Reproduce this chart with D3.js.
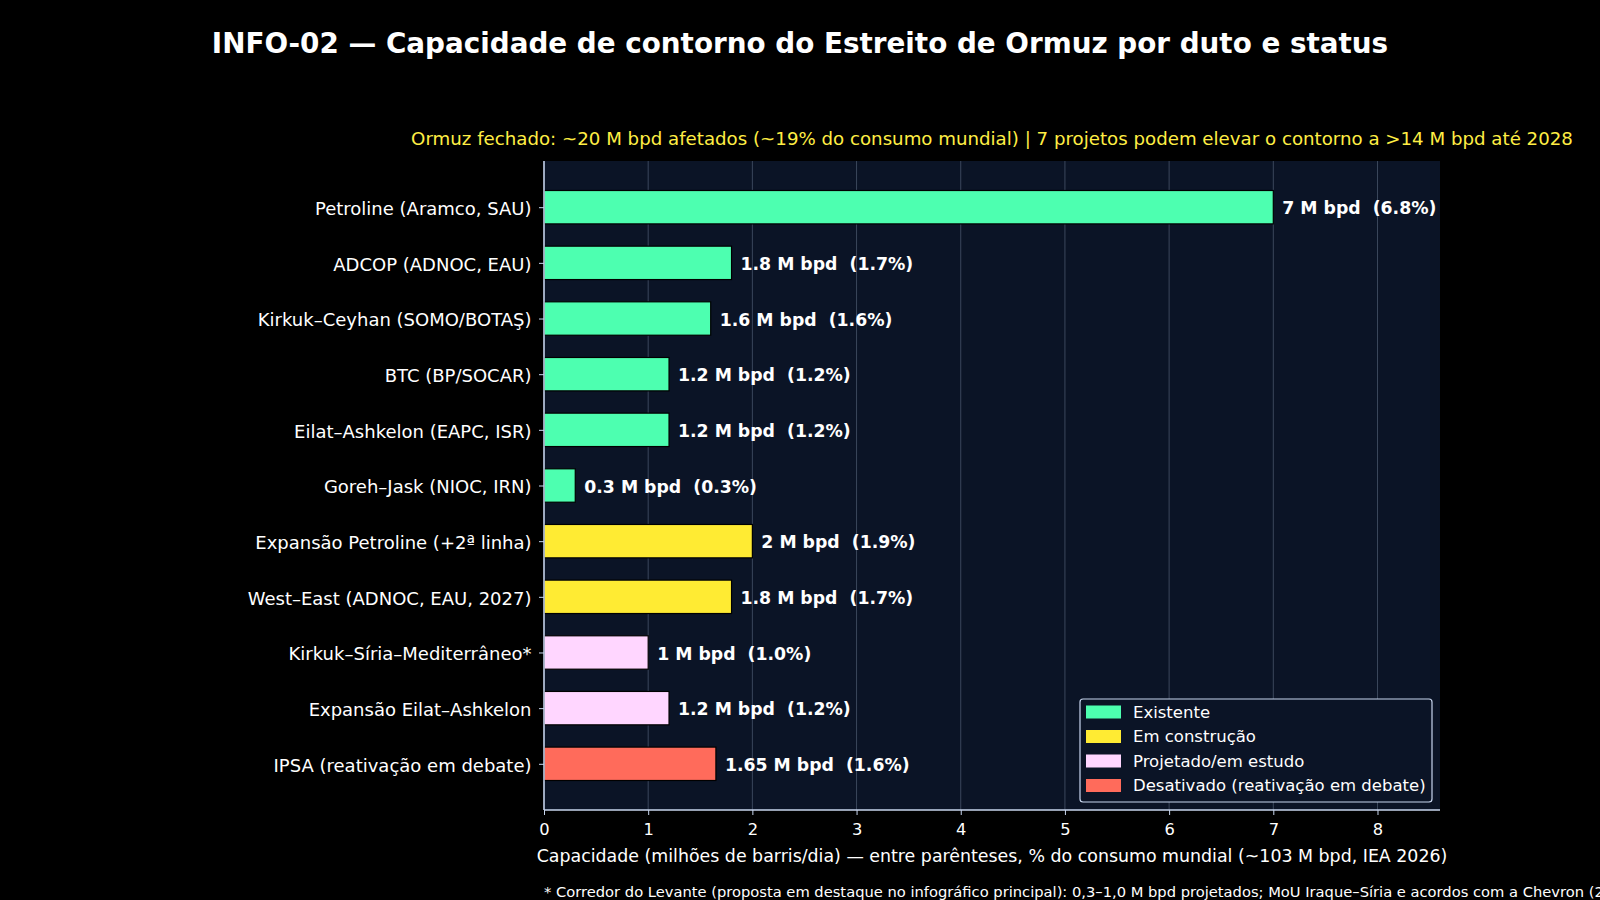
<!DOCTYPE html>
<html><head><meta charset="utf-8">
<script src="https://cdn.jsdelivr.net/npm/d3@7"></script>
<style>
html,body{margin:0;padding:0;background:#000;}
svg{display:block;font-family:"DejaVu Sans",sans-serif;}
text{white-space:pre;}
</style></head><body>
<svg id="chart" width="1600" height="900"></svg>
<script>
const categories = [
  "Petroline (Aramco, SAU)",
  "ADCOP (ADNOC, EAU)",
  "Kirkuk–Ceyhan (SOMO/BOTAŞ)",
  "BTC (BP/SOCAR)",
  "Eilat–Ashkelon (EAPC, ISR)",
  "Goreh–Jask (NIOC, IRN)",
  "Expansão Petroline (+2ª linha)",
  "West–East (ADNOC, EAU, 2027)",
  "Kirkuk–Síria–Mediterrâneo*",
  "Expansão Eilat–Ashkelon",
  "IPSA (reativação em debate)"
];
const capacity = [7, 1.8, 1.6, 1.2, 1.2, 0.3, 2, 1.8, 1, 1.2, 1.65];
const shareLabels = ["6.8%","1.7%","1.6%","1.2%","1.2%","0.3%","1.9%","1.7%","1.0%","1.2%","1.6%"];
const valueLabels = ["7","1.8","1.6","1.2","1.2","0.3","2","1.8","1","1.2","1.65"];
const status = ["Existente","Existente","Existente","Existente","Existente","Existente",
  "Em construção","Em construção","Projetado/em estudo","Projetado/em estudo",
  "Desativado (reativação em debate)"];
const statusList = ["Existente","Em construção","Projetado/em estudo","Desativado (reativação em debate)"];
const statusColors = ["#4dffb0","#ffeb33","#ffd6ff","#ff6b5b"];
const xTicks = [0,1,2,3,4,5,6,7,8];

const title = "INFO-02 — Capacidade de contorno do Estreito de Ormuz por duto e status";
const subtitle = "Ormuz fechado: ~20 M bpd afetados (~19% do consumo mundial) | 7 projetos podem elevar o contorno a >14 M bpd até 2028";
const xLabel = "Capacidade (milhões de barris/dia) — entre parênteses, % do consumo mundial (~103 M bpd, IEA 2026)";
const footnote = "* Corredor do Levante (proposta em destaque no infográfico principal): 0,3–1,0 M bpd projetados; MoU Iraque–Síria e acordos com a Chevron (2025)";

const svg = d3.select("#chart");
const L = 544, R = 1440, T = 161, B = 810;

const x = d3.scaleLinear().domain([0, 8.6]).range([L, R]);
const y = d3.scaleLinear().domain([-0.83, categories.length - 1 + 0.83]).range([T, B]);
const color = d3.scaleOrdinal().domain(statusList).range(statusColors);
const barH = (y(0.6) - y(0));

svg.append("rect").attr("x", L).attr("y", T).attr("width", R - L).attr("height", B - T).attr("fill", "#0b1426");

// grid
svg.append("g").selectAll("line").data(xTicks).join("line")
  .attr("x1", d => x(d)).attr("x2", d => x(d)).attr("y1", T).attr("y2", B)
  .attr("stroke", "#3b475c").attr("stroke-width", 1);

// bars
svg.append("g").selectAll("rect").data(categories).join("rect")
  .attr("x", x(0))
  .attr("y", (d, i) => y(i) - barH / 2)
  .attr("width", (d, i) => x(capacity[i]) - x(0))
  .attr("height", barH)
  .attr("fill", (d, i) => color(status[i]))
  .attr("stroke", "#000").attr("stroke-width", 1.2);

// value labels
svg.append("g").selectAll("text").data(categories).join("text")
  .attr("x", (d, i) => x(capacity[i]) + 9)
  .attr("y", (d, i) => y(i) + 1)
  .attr("dy", "0.35em")
  .attr("fill", "#fff").attr("font-weight", "bold").attr("font-size", 17.3)
  .text((d, i) => `${valueLabels[i]} M bpd  (${shareLabels[i]})`);

// x axis
const xAxis = svg.append("g").attr("transform", `translate(0,${B})`)
  .call(d3.axisBottom(x).tickValues(xTicks).tickSize(5).tickPadding(8.5).tickFormat(d3.format("d")));
xAxis.select(".domain").attr("stroke", "#c8d6ee").attr("stroke-width", 1.5).attr("d", `M${L},0H${R}`);
xAxis.selectAll(".tick line").attr("stroke", "#c8d6ee");
xAxis.selectAll(".tick text").attr("fill", "#fff").attr("font-size", 16.3).attr("font-family", "DejaVu Sans");

// y axis
const yAxis = svg.append("g").attr("transform", `translate(${L},0)`)
  .call(d3.axisLeft(y).tickValues(d3.range(categories.length)).tickSize(5).tickPadding(7.5).tickFormat(i => categories[i]));
yAxis.select(".domain").attr("stroke", "#c8d6ee").attr("stroke-width", 1.5).attr("d", `M0,${T}V${B}`);
yAxis.selectAll(".tick line").attr("stroke", "#c8d6ee");
yAxis.selectAll(".tick text").attr("fill", "#fff").attr("font-size", 18).attr("font-family", "DejaVu Sans").attr("dy", "0.4em");

// titles
svg.append("text").attr("x", 800).attr("y", 43).attr("dy", "0.35em").attr("text-anchor", "middle")
  .attr("fill", "#fff").attr("font-weight", "bold").attr("font-size", 27.8).text(title);
svg.append("text").attr("x", (L + R) / 2).attr("y", 138.5).attr("dy", "0.35em").attr("text-anchor", "middle")
  .attr("fill", "#ffee44").attr("font-size", 18.2).text(subtitle);
svg.append("text").attr("x", (L + R) / 2).attr("y", 855.5).attr("dy", "0.35em").attr("text-anchor", "middle")
  .attr("fill", "#fff").attr("font-size", 17.4).text(xLabel);
svg.append("text").attr("x", L).attr("y", 892).attr("dy", "0.35em")
  .attr("fill", "#fff").attr("font-size", 14.7).text(footnote);

// legend
const lg = svg.append("g");
lg.append("rect").attr("x", 1080).attr("y", 699).attr("width", 352).attr("height", 103).attr("rx", 3)
  .attr("fill", "#0b1426").attr("stroke", "#c8d6ee").attr("stroke-width", 1.2);
const items = lg.selectAll("g").data(statusList).join("g")
  .attr("transform", (d, i) => `translate(1086,${712 + i * 24.5})`);
items.append("rect").attr("x", 0).attr("y", -6.5).attr("width", 35).attr("height", 13)
  .attr("fill", d => color(d));
items.append("text").attr("x", 47).attr("y", 0).attr("dy", "0.35em")
  .attr("fill", "#fff").attr("font-size", 16.5).text(d => d);
</script></body></html>
